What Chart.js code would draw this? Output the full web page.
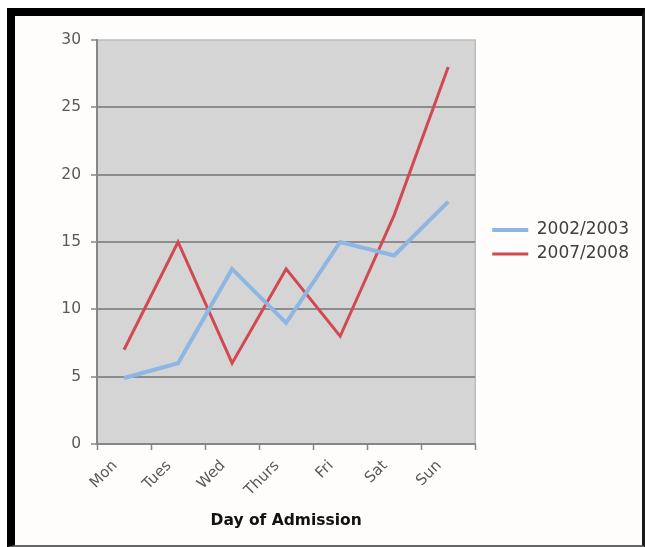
<!DOCTYPE html>
<html>
<head>
<meta charset="utf-8">
<title>Day of Admission</title>
<script src="https://cdn.jsdelivr.net/npm/chart.js@4.4.0/dist/chart.umd.min.js"></script>
<style>
    body { margin: 0; background: #fff; }
    #frame {
        position: absolute; left: 7px; top: 8px; width: 638px; height: 539px;
        box-sizing: border-box; background: #fffcfc;
        border-top: 8px solid #000; border-left: 8px solid #000;
        border-right: 3px solid #1a1a1a; border-bottom: 2px solid #666;
    }
    #wrap { position: absolute; left: 0; top: 0; width: 645px; height: 547px; }
</style>
</head>
<body>
<div id="frame"></div>
<div id="wrap"><canvas id="admissions" width="645" height="547"></canvas></div>
<script>
// Admissions by day of week
const days = ['Mon', 'Tues', 'Wed', 'Thurs', 'Fri', 'Sat', 'Sun'];
const admissions0203 = [4.9, 6, 13, 9, 15, 14, 18];
const admissions0708 = [7, 15, 6, 13, 8, 17, 28];
const seriesLabels = ['2002/2003', '2007/2008'];
const yTicks = [0, 5, 10, 15, 20, 25, 30];

Chart.defaults.font.family = '"DejaVu Sans", Verdana, sans-serif';

// grey plot area like the Excel original
const plotBg = {
    id: 'plotBg',
    beforeDraw(chart) {
        const { ctx, chartArea: a } = chart;
        ctx.save();
        ctx.fillStyle = '#d5d5d5';
        ctx.fillRect(a.left, a.top, a.right - a.left, a.bottom - a.top);
        ctx.strokeStyle = '#bdbdbd';
        ctx.lineWidth = 1.5;
        ctx.strokeRect(a.left, a.top, a.right - a.left, a.bottom - a.top);
        ctx.restore();
    }
};

const ctx = document.getElementById('admissions');
new Chart(ctx, {
    type: 'line',
    data: {
        labels: days,
        datasets: [{
            label: seriesLabels[0],
            data: admissions0203,
            borderColor: '#8db6e2',
            backgroundColor: '#8db6e2',
            borderWidth: 4,
            pointRadius: 0,
            tension: 0
        }, {
            label: seriesLabels[1],
            data: admissions0708,
            borderColor: '#d24a51',
            backgroundColor: '#d24a51',
            borderWidth: 3,
            pointRadius: 0,
            tension: 0
        }]
    },
    options: {
        responsive: false,
        animation: false,
        layout: { padding: { left: 15, top: 40, right: 6, bottom: 0 } },
        plugins: {
            tooltip: { enabled: false },
            legend: {
                position: 'right',
                fullSize: false,
                align: 'center',
                labels: {
                    usePointStyle: true,
                    pointStyle: 'line',
                    pointStyleWidth: 36,
                    padding: 7,
                    color: '#404040',
                    font: { size: 17 }
                }
            }
        },
        scales: {
            x: {
                offset: true,
                grid: {
                    offset: true,
                    drawOnChartArea: false,
                    tickLength: 6,
                    tickColor: '#868686',
                    tickWidth: 1.5
                },
                border: { color: '#868686', width: 2 },
                ticks: {
                    minRotation: 45,
                    maxRotation: 45,
                    padding: 7,
                    labelOffset: -9,
                    color: '#595959',
                    font: { size: 15 }
                },
                title: {
                    display: true,
                    text: 'Day of Admission',
                    color: '#111',
                    font: { size: 15.5, weight: 'bold' },
                    padding: { top: 0, bottom: 17 }
                },
                afterFit(scale) { scale.height = 103; }
            },
            y: {
                min: 0,
                max: 30,
                afterBuildTicks(scale) { scale.ticks = yTicks.map(v => ({ value: v })); },
                grid: {
                    color: c => c.tick && c.tick.value === 30 ? 'rgba(0,0,0,0)' : '#8c8c8c',
                    lineWidth: 2,
                    tickLength: 6,
                    tickColor: '#868686',
                    tickWidth: 1.5
                },
                border: { color: '#868686', width: 2 },
                ticks: {
                    padding: 10,
                    color: '#595959',
                    font: { size: 15.5 }
                },
                afterFit(scale) { scale.width = 82; }
            },
            // hidden spacer so the legend sits a little off the plot
            gap: {
                type: 'linear',
                position: 'right',
                display: false,
                afterFit(scale) { scale.width = 10; }
            }
        }
    },
    plugins: [plotBg]
});
</script>
</body>
</html>
